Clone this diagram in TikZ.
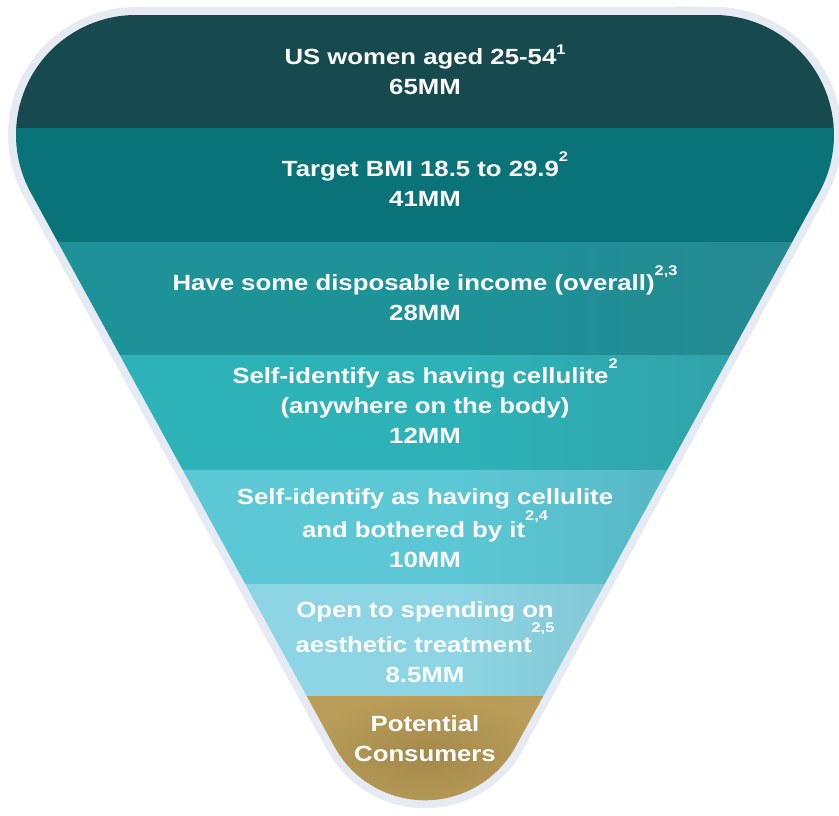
\documentclass[tikz,border=0pt]{standalone}
\usepackage{fontspec}
\setmainfont{Liberation Sans}[FakeStretch=1.17]
\usetikzlibrary{fadings}
\definecolor{bandA}{HTML}{174A4E}
\definecolor{bandB}{HTML}{0A737A}
\definecolor{bandC}{HTML}{1D9398}
\definecolor{bandD}{HTML}{2DB3B7}
\definecolor{bandE}{HTML}{5DC8D5}
\definecolor{bandF}{HTML}{8DD5E4}
\definecolor{goldL}{HTML}{B99D58}
\definecolor{goldD}{HTML}{A3884A}
\definecolor{rim}{HTML}{E6EAF3}
\definecolor{gloss}{HTML}{3F7484}
\newcommand{\fnote}[2][15pt]{\raisebox{#1}{\fontsize{14}{14}\selectfont #2}}
\newcommand{\funnelpath}{(714,800) -- (136,800)
  arc[start angle=90, end angle=208.7, radius=120pt] -- (334.4,68.4)
  arc[start angle=208.7, end angle=331.3, radius=103.3pt] -- (819.2,622.4)
  arc[start angle=-28.7, end angle=90, radius=120pt] -- cycle}
\tikzfading[name=glossfade, left color=transparent!100, right color=transparent!65]

\begin{document}
\begin{tikzpicture}[x=1pt, y=1pt,
    bandtext/.style={text=white, font=\bfseries\fontsize{22}{30}\selectfont,
        align=center, inner sep=0pt}]
    \useasboundingbox (0,0) rectangle (839,815);
    \draw[rim, line width=16pt] \funnelpath;
    \begin{scope}
        \clip \funnelpath;
        \foreach \ytop/\ybot/\col in {800/687/bandA, 687/573/bandB, 573/460/bandC,
            460/345/bandD, 345/231/bandE, 231/118/bandF}
            \fill[\col] (0,\ybot) rectangle (839,\ytop);
        \shade[inner color=goldD, outer color=goldL] (300,0) rectangle (550,118);
        \fill[gloss, path fading=glossfade] (460,118) rectangle (839,573);
    \end{scope}

    \node[bandtext] (women) at (425,745.5) {US women aged 25-54\fnote[10pt]{1}\\65MM};
    \node[bandtext] (bmi) at (425,635.5) {Target BMI 18.5 to 29.9\fnote{2}\\41MM};
    \node[bandtext] (income) at (425,521.5) {Have some disposable income (overall)\fnote{2,3}\\28MM};
    \node[bandtext] (cellulite) at (425,414) {Self-identify as having cellulite\fnote{2}\\(anywhere on the body)\\12MM};
    \node[bandtext] (bothered) at (425,287) {Self-identify as having cellulite\\and bothered by it\fnote[17pt]{2,4}\\10MM};
    \node[bandtext] (open) at (425,173) {Open to spending on\\aesthetic treatment\fnote[20pt]{2,5}\\8.5MM};
    \node[bandtext] (potential) at (425,76) {Potential\\Consumers};
\end{tikzpicture}
\end{document}
